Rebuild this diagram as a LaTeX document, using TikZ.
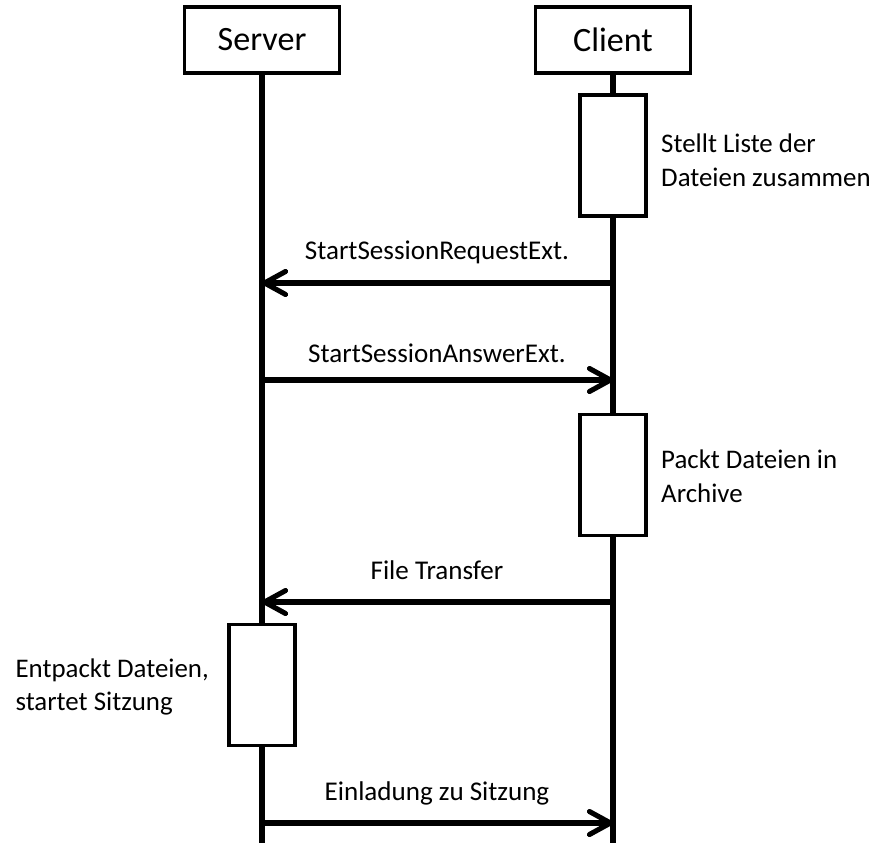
\documentclass[tikz,border=0pt]{standalone}
\usepackage{fontspec}
\setmainfont{Carlito}
\usetikzlibrary{arrows.meta}
\tikzset{
  actor/.style={draw, line width=2.2pt, minimum width=3.1cm,
                minimum height=1.32cm, font=\fontsize{19.4}{23}\selectfont},
  activity/.style={draw, fill=white, line width=2.2pt, minimum width=1.32cm,
                   minimum height=2.42cm},
  lifeline/.style={line width=2.9pt},
  message/.style={line width=2.9pt,
                  -{Straight Barb[length=0.42cm, width=0.46cm, round]}},
  msglabel/.style={font=\fontsize{15.4}{18}\selectfont},
  note/.style={font=\fontsize{15.3}{19.3}\selectfont, align=left}
}
\begin{document}
\begin{tikzpicture}
      \useasboundingbox (0, 0) rectangle (17.5, -16.86);

      \node[actor](server) at (5.24, -0.8) {Server};
      \node[actor](client) at (12.26, -0.8) {Client};
      \coordinate (server-end) at (5.24, -16.86);
      \coordinate (client-end) at (12.26, -16.86);
      \draw[lifeline] (server.south) -- (server-end);
      \draw[lifeline] (client.south) -- (client-end);

      \node[activity](list) at (12.26, -3.11) {};
      \node[note, anchor=west](list-note) at (13.1, -3.2)
            {Stellt Liste der\\Dateien zusammen};

      \coordinate (req-c) at (12.26, -5.66);
      \coordinate (req-s) at (5.24, -5.66);
      \draw[message] (req-c) -- (req-s);
      \node[msglabel](req) at (8.74, -5.04) {StartSessionRequestExt.};

      \coordinate (ans-s) at (5.24, -7.6);
      \coordinate (ans-c) at (12.26, -7.6);
      \draw[message] (ans-s) -- (ans-c);
      \node[msglabel](ans) at (8.74, -7.06) {StartSessionAnswerExt.};

      \node[activity](pack) at (12.26, -9.5) {};
      \node[note, anchor=west](pack-note) at (13.1, -9.52)
            {Packt Dateien in\\Archive};

      \coordinate (file-c) at (12.26, -12.04);
      \coordinate (file-s) at (5.24, -12.04);
      \draw[message] (file-c) -- (file-s);
      \node[msglabel](file) at (8.74, -11.4) {File Transfer};

      \node[activity](unpack) at (5.24, -13.7) {};
      \node[note, anchor=east](unpack-note) at (4.3, -13.74)
            {Entpackt Dateien,\\startet Sitzung};

      \coordinate (inv-s) at (5.24, -16.46);
      \coordinate (inv-c) at (12.26, -16.46);
      \draw[message] (inv-s) -- (inv-c);
      \node[msglabel](inv) at (8.74, -15.86) {Einladung zu Sitzung};
\end{tikzpicture}
\end{document}
